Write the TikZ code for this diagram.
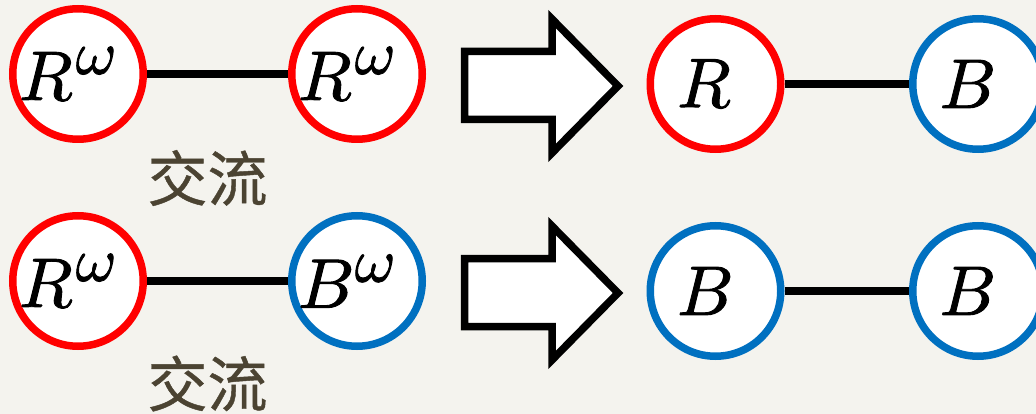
\documentclass[tikz,border=0pt]{standalone}
\usepackage{fontspec}
\usepackage{unicode-math}
\setmathfont{Latin Modern Math}[FakeBold=1.3]
\newfontfamily\cjk{Noto Sans CJK SC}[FakeBold=0.7]
\definecolor{bgc}{HTML}{F4F3EE}
\definecolor{redc}{HTML}{FF0000}
\definecolor{bluec}{HTML}{0070C0}
\definecolor{txtc}{HTML}{4B4332}
\newcommand{\cirtext}[1]{#1\kern22pt}
\newcommand{\supw}{\raisebox{26pt}{\fontsize{62}{66}\selectfont$\omega$}}

\begin{document}
\begin{tikzpicture}[x=1pt,y=-1pt,
  rc/.style={circle,draw=redc,fill=white,line width=7.5pt,inner sep=0pt,minimum size=130.5pt,font=\fontsize{70}{80}\selectfont},
  bc/.style={rc,draw=bluec},
  edge/.style={line width=7.5pt},
  bigarr/.style={draw,fill=white,line width=7.5pt},
  jp/.style={text=txtc,font=\cjk\fontsize{60}{66}\selectfont},
]
\useasboundingbox (0,0) rectangle (1036,414);
\clip (0,0) rectangle (1036,414);
\fill[bgc] (0,0) rectangle (1036,414);

% ---------------- top row ----------------
\coordinate (A1) at (78,74);
\coordinate (A2) at (357,74);
\coordinate (C1) at (715.5,84);
\coordinate (C2) at (978,84);
\coordinate (P1) at (464.5,51.5);
\node[rc] (rw1) at (A1) {\cirtext{$R$\kern2pt\supw}};
\node[rc] (rw2) at (A2) {\cirtext{$R$\kern2pt\supw}};
\draw[edge] (rw1) -- (rw2);
\node[jp] (t1) at (207.5,178) {交流};
\draw[bigarr] (P1) -- ++(87.5,0) -- ++(0,-32.5) -- ++(66,67) -- ++(-66,67) -- ++(0,-33.5) -- ++(-87.5,0) -- cycle;
\node[rc] (r1) at (C1) {\cirtext{$R$}};
\node[bc] (b1) at (C2) {\cirtext{$B$}};
\draw[edge] (r1) -- (b1);

% ---------------- bottom row ----------------
\coordinate (B1) at (78,281);
\coordinate (B2) at (357,281);
\coordinate (D1) at (715.5,291);
\coordinate (D2) at (978,291);
\coordinate (P2) at (464.5,258.5);
\node[rc] (rw3) at (B1) {\cirtext{$R$\kern2pt\supw}};
\node[bc] (bw1) at (B2) {\cirtext{$B$\kern2pt\supw}};
\draw[edge] (rw3) -- (bw1);
\node[jp] (t2) at (207.5,383.5) {交流};
\draw[bigarr] (P2) -- ++(87.5,0) -- ++(0,-32.5) -- ++(66,67) -- ++(-66,67) -- ++(0,-33.5) -- ++(-87.5,0) -- cycle;
\node[bc] (b2) at (D1) {\cirtext{$B$}};
\node[bc] (b3) at (D2) {\cirtext{$B$}};
\draw[edge] (b2) -- (b3);
\end{tikzpicture}
\end{document}
